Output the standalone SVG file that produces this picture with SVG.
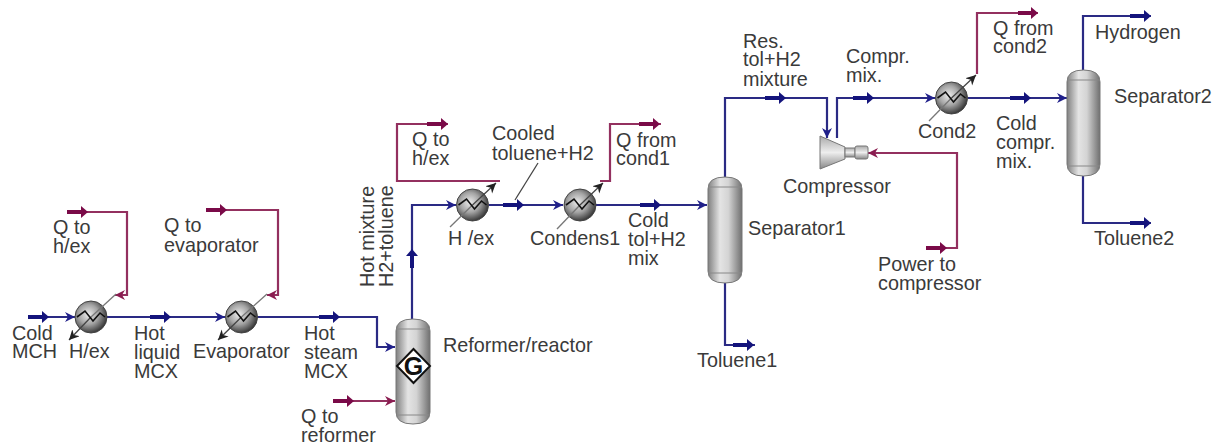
<svg xmlns="http://www.w3.org/2000/svg" width="1216" height="447" viewBox="0 0 1216 447">
<style>
text{font-family:"Liberation Sans",Arial,sans-serif;font-size:19.8px;fill:#3a3a3a}
.b{fill:none;stroke:#2a2a84;stroke-width:2.2}
.r{fill:none;stroke:#93305f;stroke-width:2.2}
.g{fill:none;stroke:#777;stroke-width:1.3}
.k{fill:none;stroke:#444;stroke-width:1.3}
.bt{fill:none;stroke:#14147c;stroke-width:4}
.rt{fill:none;stroke:#7a0a48;stroke-width:4}
.ves{fill:url(#vessel);stroke:#777;stroke-width:1}
.seam{fill:none;stroke:#888;stroke-width:1}
.hx{fill:url(#sphere);stroke:#444;stroke-width:1}
.zig{fill:none;stroke:#111;stroke-width:1.6}
</style>
<defs>
<linearGradient id="vessel" x1="0" x2="1" y1="0" y2="0">
<stop offset="0" stop-color="#808080"/><stop offset=".35" stop-color="#e4e4e4"/><stop offset=".6" stop-color="#d4d4d4"/><stop offset="1" stop-color="#707070"/>
</linearGradient>
<linearGradient id="turb" x1="0" x2="0" y1="0" y2="1">
<stop offset="0" stop-color="#aaa"/><stop offset=".5" stop-color="#eee"/><stop offset="1" stop-color="#888"/>
</linearGradient>
<radialGradient id="sphere" cx=".42" cy=".42" r=".62">
<stop offset="0" stop-color="#ececec"/><stop offset=".5" stop-color="#a4a4a4"/><stop offset="1" stop-color="#2e2e2e"/>
</radialGradient>
<marker id="ab" markerUnits="userSpaceOnUse" markerWidth="12" markerHeight="12" refX="10" refY="5" orient="auto"><path d="M0 0L10 5L0 10L3 5Z" fill="#20208a"/></marker>
<marker id="ar" markerUnits="userSpaceOnUse" markerWidth="12" markerHeight="12" refX="10" refY="5" orient="auto"><path d="M0 0L10 5L0 10L3 5Z" fill="#8a1c50"/></marker>
<marker id="ak" markerUnits="userSpaceOnUse" markerWidth="12" markerHeight="12" refX="10" refY="5" orient="auto"><path d="M0 0L10 5L0 10L3 5Z" fill="#222"/></marker>
<marker id="hb" markerUnits="userSpaceOnUse" markerWidth="9" markerHeight="12" refX="1" refY="6" orient="auto"><path d="M0 0L7 6L0 12Z" fill="#14147c"/></marker>
<marker id="hr" markerUnits="userSpaceOnUse" markerWidth="9" markerHeight="12" refX="1" refY="6" orient="auto"><path d="M0 0L7 6L0 12Z" fill="#7a0a48"/></marker>
</defs>
<rect width="1216" height="447" fill="#fff"/>
<g id="connectors">
<path class="b" d="M28 317H75" marker-end="url(#ab)"/>
<path class="b" d="M107 317H225" marker-end="url(#ab)"/>
<path class="b" d="M257 317H377V347H395" marker-end="url(#ab)"/>
<path class="r" d="M333 401H395" marker-end="url(#ar)"/>
<path class="r" d="M67 212H127V295H115" marker-end="url(#ar)"/>
<path class="r" d="M206 210H278V295H267" marker-end="url(#ar)"/>
<path class="b" d="M412 319V205H456" marker-end="url(#ab)"/>
<path class="r" d="M500 181H397V124H448"/>
<path class="b" d="M489 205H563" marker-end="url(#ab)"/>
<path class="r" d="M600 181H610V124H661"/>
<path class="b" d="M596 205H707" marker-end="url(#ab)"/>
<path class="b" d="M725 177V98H827V138" marker-end="url(#ab)"/>
<path class="b" d="M837 138V98H935" marker-end="url(#ab)"/>
<path class="r" d="M926 248H957V153H868" marker-end="url(#ar)"/>
<path class="b" d="M968 98H1067" marker-end="url(#ab)"/>
<path class="r" d="M977 74V13H1038"/>
<path class="b" d="M1083 70V16H1151"/>
<path class="b" d="M1083 176V223H1151"/>
<path class="b" d="M725 283V345H755"/>
<path class="k" d="M538 163L515 200"/>
<g>
<path class="bt" d="M28 317H43" marker-end="url(#hb)"/>
<path class="bt" d="M150 317H165" marker-end="url(#hb)"/>
<path class="bt" d="M319 317H334" marker-end="url(#hb)"/>
<path class="rt" d="M333 401H348" marker-end="url(#hr)"/>
<path class="rt" d="M67 212H82" marker-end="url(#hr)"/>
<path class="rt" d="M206 210H221" marker-end="url(#hr)"/>
<path class="bt" d="M412 268V255" marker-end="url(#hb)"/>
<path class="rt" d="M427 124H442" marker-end="url(#hr)"/>
<path class="bt" d="M503 205H518" marker-end="url(#hb)"/>
<path class="rt" d="M639 124H654" marker-end="url(#hr)"/>
<path class="bt" d="M640 205H655" marker-end="url(#hb)"/>
<path class="bt" d="M765 98H780" marker-end="url(#hb)"/>
<path class="bt" d="M853 98H868" marker-end="url(#hb)"/>
<path class="rt" d="M926 248H941" marker-end="url(#hr)"/>
<path class="bt" d="M1010 98H1025" marker-end="url(#hb)"/>
<path class="rt" d="M1018 13H1032" marker-end="url(#hr)"/>
<path class="bt" d="M1130 16H1145" marker-end="url(#hb)"/>
<path class="bt" d="M1130 223H1145" marker-end="url(#hb)"/>
<path class="bt" d="M733 345H748" marker-end="url(#hb)"/>
</g>
</g>
<g id="hex1">
<circle class="hx" cx="91" cy="317" r="16"/>
<path class="g" d="M116 294L91 317"/><path class="k" d="M91 317L69 340" marker-end="url(#ak)"/>
<path class="zig" d="M77 317L85 311L93 321L100 313L105 317"/>
<text x="69" y="358">H/ex</text>
</g>
<g id="evaporator">
<circle class="hx" cx="241.500" cy="317" r="16"/>
<path class="g" d="M267 294L241.500 317"/><path class="k" d="M241.500 317L218 340" marker-end="url(#ak)"/>
<path class="zig" d="M227.500 317L235.500 311L243.500 321L250.500 313L255.500 317"/>
<text x="193" y="358">Evaporator</text>
</g>
<g id="reformer">
<path class="ves" d="M396 331Q396 319 413 319Q430 319 430 331V412Q430 424 413 424Q396 424 396 412Z"/>
<path class="seam" d="M396 329H430M396 415H430"/>
<path d="M413.500 349L430 366L413.500 383L397 366Z" fill="#fff" stroke="#111" stroke-width="2"/>
<text x="413.500" y="375" text-anchor="middle" style="font-size:25px;font-weight:bold;fill:#111">G</text>
<text x="443" y="352">Reformer/reactor</text>
</g>
<g id="hex2">
<circle class="hx" cx="472.500" cy="205" r="16"/>
<path class="g" d="M450 227L472.500 205"/><path class="k" d="M472.500 205L496 183" marker-end="url(#ak)"/>
<path class="zig" d="M458.500 205L466.500 199L474.500 209L481.500 201L486.500 205"/>
<text x="448" y="245">H /ex</text>
</g>
<g id="condens1">
<circle class="hx" cx="580" cy="205" r="16"/>
<path class="g" d="M557 229L580 205"/><path class="k" d="M580 205L603 183" marker-end="url(#ak)"/>
<path class="zig" d="M566 205L574 199L582 209L589 201L594 205"/>
<text x="530" y="245">Condens1</text>
</g>
<g id="separator1">
<path class="ves" d="M708 189Q708 177 725 177Q742 177 742 189V271Q742 283 725 283Q708 283 708 271Z"/>
<path class="seam" d="M708 187H742M708 273H742"/>
<text x="748" y="235">Separator1</text>
</g>
<g id="compressor">
<path d="M820 136L845 147V159L820 169Z" fill="url(#turb)" stroke="#777"/>
<rect x="845" y="148" width="10" height="9" fill="url(#turb)" stroke="#777"/>
<rect x="855" y="146" width="13" height="13" rx="2" fill="url(#turb)" stroke="#777"/>
<text x="783" y="193">Compressor</text>
</g>
<g id="cond2">
<circle class="hx" cx="951.500" cy="98" r="16"/>
<path class="g" d="M929 121L951.500 98"/><path class="k" d="M951.500 98L976 75" marker-end="url(#ak)"/>
<path class="zig" d="M937.500 98L945.500 92L953.500 102L960.500 94L965.500 98"/>
<text x="918" y="138">Cond2</text>
</g>
<g id="separator2">
<path class="ves" d="M1067 82Q1067 70 1083.500 70Q1100 70 1100 82V164Q1100 176 1083.500 176Q1067 176 1067 164Z"/>
<path class="seam" d="M1067 80H1100M1067 166H1100"/>
<text x="1114" y="103">Separator2</text>
</g>
<g id="labels">
<text y="340"><tspan x="12">Cold</tspan><tspan x="12" dy="18">MCH</tspan></text>
<text y="340"><tspan x="134">Hot</tspan><tspan x="134" dy="19">liquid</tspan><tspan x="134" dy="19">MCX</tspan></text>
<text y="340"><tspan x="304">Hot</tspan><tspan x="304" dy="19">steam</tspan><tspan x="304" dy="19">MCX</tspan></text>
<text y="234"><tspan x="53">Q to</tspan><tspan x="53" dy="19">h/ex</tspan></text>
<text y="232"><tspan x="164">Q to</tspan><tspan x="164" dy="20">evaporator</tspan></text>
<text y="423"><tspan x="301">Q to</tspan><tspan x="301" dy="19">reformer</tspan></text>
<text transform="translate(374 287) rotate(-90)"><tspan x="0">Hot mixture</tspan><tspan x="0" dy="19">H2+toluene</tspan></text>
<text y="146"><tspan x="412">Q to</tspan><tspan x="412" dy="19">h/ex</tspan></text>
<text y="140"><tspan x="492">Cooled</tspan><tspan x="492" dy="20">toluene+H2</tspan></text>
<text y="147"><tspan x="616">Q from</tspan><tspan x="616" dy="18">cond1</tspan></text>
<text y="227"><tspan x="628">Cold</tspan><tspan x="628" dy="19">tol+H2</tspan><tspan x="628" dy="19">mix</tspan></text>
<text x="697" y="367">Toluene1</text>
<text y="48"><tspan x="743">Res.</tspan><tspan x="743" dy="18">tol+H2</tspan><tspan x="743" dy="20">mixture</tspan></text>
<text y="63"><tspan x="846">Compr.</tspan><tspan x="846" dy="19">mix.</tspan></text>
<text y="271"><tspan x="878">Power to</tspan><tspan x="878" dy="19">compressor</tspan></text>
<text y="35"><tspan x="993">Q from</tspan><tspan x="993" dy="18">cond2</tspan></text>
<text x="1095" y="39">Hydrogen</text>
<text y="130"><tspan x="996">Cold</tspan><tspan x="996" dy="19">compr.</tspan><tspan x="996" dy="19">mix.</tspan></text>
<text x="1094" y="245">Toluene2</text>
</g>
</svg>
